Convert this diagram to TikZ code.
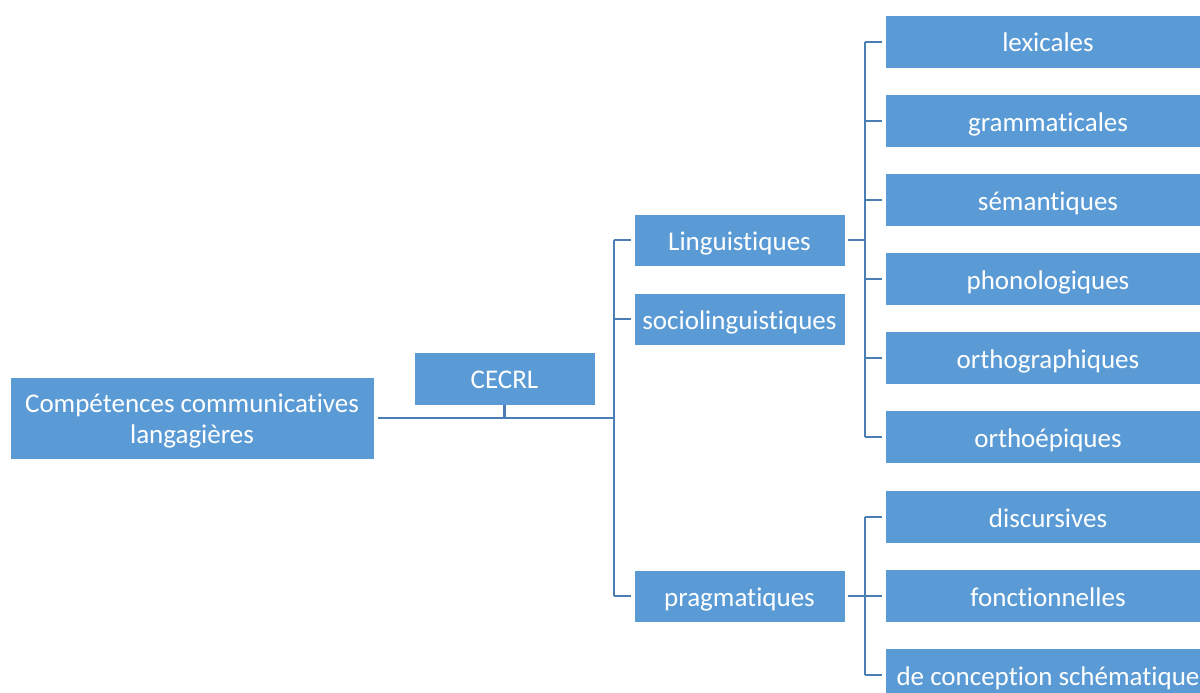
\documentclass[tikz,border=0pt]{standalone}
\usepackage{fontspec}
\setmainfont{Carlito}[Ligatures={NoCommon}]
\definecolor{boxblue}{HTML}{5B9BD5}
\definecolor{lineblue}{HTML}{4A7EB4}
\begin{document}
\begin{tikzpicture}[x=1pt,y=-1pt,
  cbox/.style={fill=boxblue, draw=white, line width=0.6pt, text=white, inner sep=0pt, align=center, font=\fontsize{27}{31}\selectfont},
  onel/.style={text height=25pt, text depth=5pt},
  lvtwo/.style={cbox, onel, minimum width=211pt, minimum height=52pt},
  lvthree/.style={cbox, onel, minimum width=326pt, minimum height=53pt},
  conn/.style={draw=lineblue, line width=2.8pt}]
\useasboundingbox (0,0) rectangle (1200,693);
\node[cbox, minimum width=364pt, minimum height=82pt] (root) at (192,418) {\rule{0pt}{24pt}Compétences communicatives\\langagières};
\node[cbox, onel, minimum width=181pt, minimum height=53pt] (cecrl) at (504.5,378.5) {CECRL};
\node[lvtwo] (ling) at (739.5,240) {Linguistiques};
\node[lvtwo] (socio) at (739.5,319) {sociolinguistiques};
\node[lvtwo] (prag) at (739.5,596) {pragmatiques};
\node[lvthree] (lex) at (1048,42) {lexicales};
\node[lvthree] (gram) at (1048,121) {grammaticales};
\node[lvthree] (sem) at (1048,200) {sémantiques};
\node[lvthree] (phon) at (1048,279) {phonologiques};
\node[lvthree] (orth) at (1048,358) {orthographiques};
\node[lvthree] (orthoe) at (1048,437) {orthoépiques};
\node[lvthree] (disc) at (1048,517) {discursives};
\node[lvthree] (fonc) at (1048,596) {fonctionnelles};
\node[lvthree] (schem) at (1048,675) {de conception schématique};
\coordinate (j1) at (614,418);
\coordinate (j2) at (865,240);
\coordinate (j3) at (865,596);
% root to level 2
\draw[conn] ([xshift=4pt]root.east) -- (j1);
\draw[conn] (cecrl.south) -- (cecrl.south |- j1);
\draw[conn] (j1 |- ling) -- (j1 |- prag);
\foreach \n in {ling,socio,prag} \draw[conn, shorten >=3pt] (j1 |- \n) -- (\n.west);
% Linguistiques
\draw[conn, shorten <=3pt] (ling.east) -- (j2);
\draw[conn] (j2 |- lex) -- (j2 |- orthoe);
\foreach \n in {lex,gram,sem,phon,orth,orthoe} \draw[conn, shorten >=3pt] (j2 |- \n) -- (\n.west);
% pragmatiques
\draw[conn, shorten <=3pt] (prag.east) -- (j3);
\draw[conn] (j3 |- disc) -- (j3 |- schem);
\foreach \n in {disc,fonc,schem} \draw[conn, shorten >=3pt] (j3 |- \n) -- (\n.west);
\end{tikzpicture}
\end{document}
